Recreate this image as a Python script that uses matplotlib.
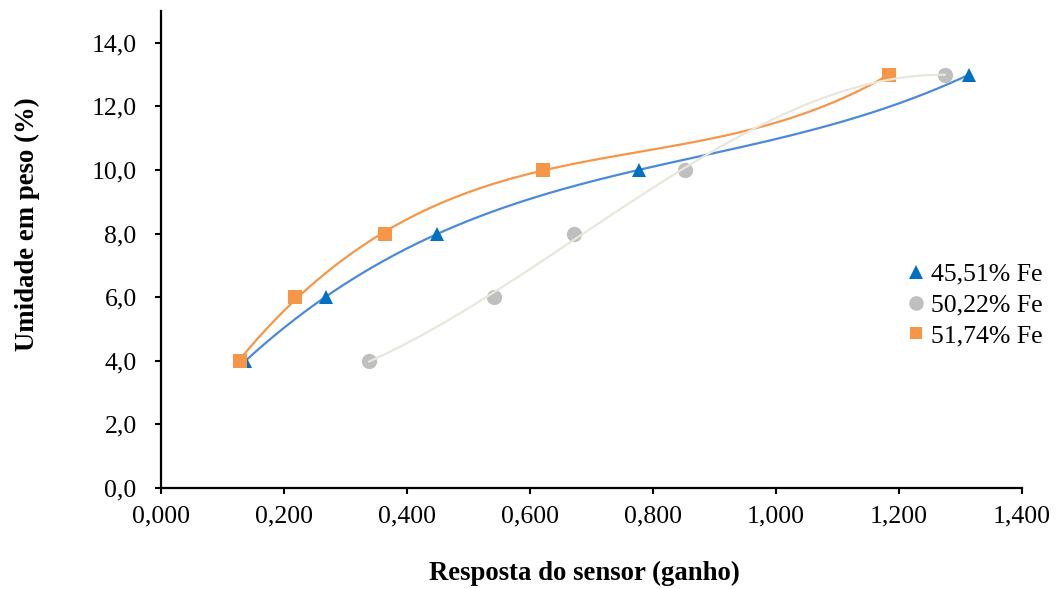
import numpy as np
import matplotlib
matplotlib.use("Agg")
import matplotlib.pyplot as plt
from matplotlib.lines import Line2D

plt.rcParams['font.family'] = ['Liberation Serif', 'DejaVu Serif']

# Sensor response (gain) vs. moisture content for three iron grades
moisture = [4.0, 6.0, 8.0, 10.0, 13.0]
resp_4551 = [0.137, 0.268, 0.449, 0.777, 1.314]
resp_5022 = [0.338, 0.541, 0.672, 0.852, 1.275]
resp_5174 = [0.128, 0.218, 0.364, 0.621, 1.184]

labels = ['45,51% Fe', '50,22% Fe', '51,74% Fe']
x_ticks = [0.0, 0.2, 0.4, 0.6, 0.8, 1.0, 1.2, 1.4]
y_ticks = [0.0, 2.0, 4.0, 6.0, 8.0, 10.0, 12.0, 14.0]

FS = 18.5
FS_LABEL = 19.3

W, H = 1061, 589
fig = plt.figure(figsize=(W / 100, H / 100), dpi=100)
ax = fig.add_axes([161 / W, 1 - 488 / H, (1022 - 161) / W, (488 - 11) / H])
ax.set_xlim(0, 1.4)
ax.set_ylim(0, 15)


def trend(xs, ys, order=3, n=300):
    """Polynomial trendline over the span of the data."""
    coef = np.polyfit(xs, ys, order)
    xx = np.linspace(min(xs), max(xs), n)
    return xx, np.polyval(coef, xx)


series = [
    # x, line colour, marker colour, marker, size, line z
    (resp_4551, '#4A89DC', '#0070C0', '^', 10.5, 2),
    (resp_5174, '#F79646', '#F79646', 's', 10, 2),
    (resp_5022, '#E9E7DC', '#BFBFBF', 'o', 11, 4),
]
for xs, lc, mc, mk, ms, lz in series:
    tx, ty = trend(xs, moisture)
    ax.plot(tx, ty, color=lc, lw=1.6, zorder=lz, solid_capstyle='round')
    ax.plot(xs, moisture, linestyle='none', marker=mk, ms=ms,
            color=mc, markeredgewidth=0, zorder=3)

for side in ('top', 'right'):
    ax.spines[side].set_visible(False)
for side in ('left', 'bottom'):
    ax.spines[side].set_linewidth(1.6)
    ax.spines[side].set_color('black')

ax.set_xticks(x_ticks)
ax.set_xticklabels([f'{v:.3f}'.replace('.', ',') for v in x_ticks])
ax.set_yticks(y_ticks)
ax.set_yticklabels([f'{v:.1f}'.replace('.', ',') for v in y_ticks])
ax.tick_params(axis='both', direction='out', length=4.5, width=1.5,
               labelsize=FS, colors='black')
ax.tick_params(axis='y', pad=13)
ax.tick_params(axis='x', pad=8)

fig.text(584 / W, 1 - 573 / H, 'Resposta do sensor (ganho)', fontsize=FS_LABEL,
         fontweight='bold', ha='center', va='center')
fig.text(27 / W, 1 - 224 / H, 'Umidade em peso (%)', fontsize=FS_LABEL,
         fontweight='bold', ha='center', va='center', rotation=90)

handles = [
    Line2D([], [], linestyle='none', marker='^', ms=9.5, color='#0070C0', markeredgewidth=0),
    Line2D([], [], linestyle='none', marker='o', ms=10.5, color='#BFBFBF', markeredgewidth=0),
    Line2D([], [], linestyle='none', marker='s', ms=9, color='#F79646', markeredgewidth=0),
]
fig.legend(handles, labels, loc='center left',
           bbox_to_anchor=(907 / W, 1 - 305 / H), frameon=False,
           fontsize=FS, handlelength=0.7, handletextpad=0.25,
           labelspacing=0.3, borderpad=0, borderaxespad=0)

fig.savefig('out.png', dpi=100)
